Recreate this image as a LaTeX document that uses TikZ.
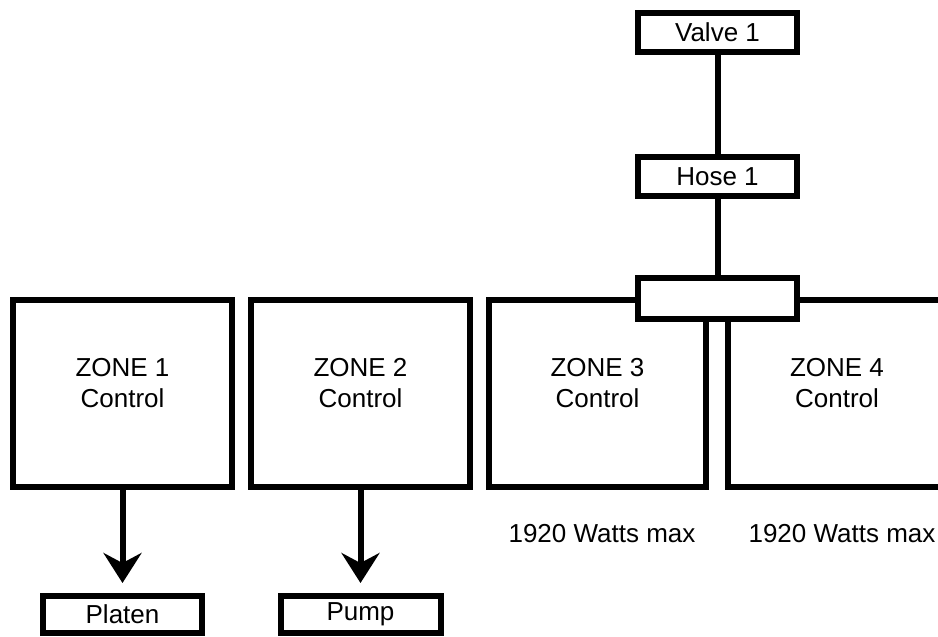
\documentclass[tikz,border=0pt]{standalone}
\usepackage{fontspec}
\setmainfont{Liberation Sans}
\usetikzlibrary{arrows.meta}
\tikzset{
  box/.style={draw=black, line width=3pt, fill=white, rectangle, inner sep=0pt},
  txt/.style={inner sep=0pt, align=center, font=\fontsize{13pt}{15.5pt}\selectfont},
  wire/.style={line width=3pt},
  arr/.style={line width=3pt, -{Stealth[length=15pt,width=19pt,inset=5pt]}, shorten >=5pt},
}
\begin{document}
\begin{tikzpicture}[x=0.5pt,y=-0.5pt]
\useasboundingbox (0,0) rectangle (938,637);
\clip (0,0) rectangle (938,637);
\fill[white] (0,0) rectangle (938,637);
% zone boxes
\node[box, minimum width=109.5pt, minimum height=93.5pt] (zone1) at (122.5,393.5) {};
\node[box, minimum width=109.5pt, minimum height=93.5pt] (zone2) at (360.5,393.5) {};
\node[box, minimum width=108.5pt, minimum height=93.5pt] (zone3) at (597.5,393.5) {};
\node[box, minimum width=109pt, minimum height=93.5pt] (zone4) at (837,393.5) {};
% zone texts
\node[txt] (z1t) at (122.5,383) {ZONE 1\\Control};
\node[txt] (z2t) at (360.5,383) {ZONE 2\\Control};
\node[txt] (z3t) at (597.5,383) {ZONE 3\\Control};
\node[txt] (z4t) at (837,383) {ZONE 4\\Control};
% top chain
\node[box, minimum width=79.5pt, minimum height=19.5pt, font=\fontsize{13pt}{15.5pt}\selectfont] (valve) at (717.5,32.5) {Valve 1};
\node[box, minimum width=79.5pt, minimum height=19.5pt, font=\fontsize{13pt}{15.5pt}\selectfont] (hose) at (717.5,176.5) {Hose 1};
\node[box, minimum width=79.5pt, minimum height=20.5pt] (conn) at (717.5,298.5) {};
\draw[wire] (valve.south) -- (hose.north);
\draw[wire] (hose.south) -- (conn.north);
% bottom boxes
\node[box, minimum width=79.5pt, minimum height=18.5pt, font=\fontsize{13pt}{15.5pt}\selectfont] (platen) at (122.5,614.5) {Platen};
\node[box, minimum width=80pt, minimum height=18.5pt, font=\fontsize{13pt}{15.5pt}\selectfont] (pump) at (360.5,614.5) {\raisebox{2pt}{Pump}};
\draw[arr] (zone1.south) -- (platen.north);
\draw[arr] (zone2.south) -- (pump.north);
% watt labels
\node[txt, anchor=base] (w3) at (602,542) {1920 Watts max};
\node[txt, anchor=base] (w4) at (842,542) {1920 Watts max};
\end{tikzpicture}
\end{document}
